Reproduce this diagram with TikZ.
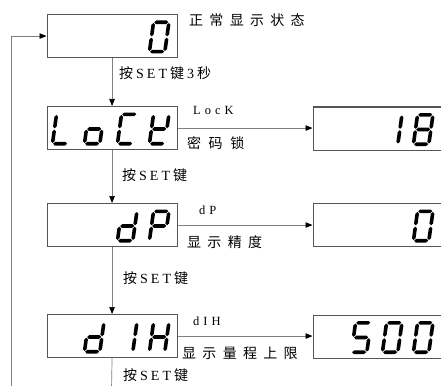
\documentclass[tikz,border=0pt]{standalone}
\usepackage{fontspec}
\setmainfont{Liberation Serif}
\newfontfamily\cjn{Noto Sans CJK SC}
\newfontfamily\cjw[LetterSpace=45]{Noto Sans CJK SC}
\newfontfamily\cjx[LetterSpace=54]{Noto Sans CJK SC}
\newfontfamily\ltw[LetterSpace=32]{Liberation Serif}
\usetikzlibrary{arrows.meta}
\definecolor{boxgray}{HTML}{555555}
\definecolor{linegray}{HTML}{808080}
\newcommand\hsg[3]{\fill (#1,#3) -- ({#1+1.8},{#3-1.8}) -- ({#2-1.8},{#3-1.8}) -- (#2,#3) -- ({#2-1.8},{#3+1.8}) -- ({#1+1.8},{#3+1.8}) -- cycle;}
\newcommand\vsg[3]{\fill (#1,#2) -- ({#1+1.8},{#2+1.8}) -- ({#1+1.8},{#3-1.8}) -- (#1,#3) -- ({#1-1.8},{#3-1.8}) -- ({#1-1.8},{#2+1.8}) -- cycle;}
\expandafter\newcommand\csname SGa\endcsname{\hsg{2.5}{16.5}{1.8}}
\expandafter\newcommand\csname SGb\endcsname{\vsg{17.2}{2.5}{15.8}}
\expandafter\newcommand\csname SGc\endcsname{\vsg{17.2}{17.2}{30.5}}
\expandafter\newcommand\csname SGd\endcsname{\hsg{2.5}{16.5}{31.2}}
\expandafter\newcommand\csname SGe\endcsname{\vsg{1.8}{17.2}{30.5}}
\expandafter\newcommand\csname SGf\endcsname{\vsg{1.8}{2.5}{15.8}}
\expandafter\newcommand\csname SGg\endcsname{\hsg{2.5}{16.5}{16.5}}
\newcommand\sevseg[3]{\begin{scope}[shift={(#1,#2)},xslant=0.14]\foreach \s in {#3}{\csname SG\s\endcsname}\end{scope}}
\newcommand\gk{\hspace{3pt}}
\newcommand\pressset{{\cjn 按}\gk S\gk E\gk T\gk{\cjn 键}}
\tikzset{
  dispbox/.style={draw=boxgray, line width=1.1pt, minimum width=130pt, minimum height=43pt, inner sep=0pt, anchor=north west},
  conn/.style={draw=linegray, line width=0.7pt},
  arr/.style={conn, -{Triangle[length=7pt,width=5.5pt,color=black,fill=black]}},
  lbl/.style={anchor=west, inner sep=0pt, font=\fontsize{14}{16}\selectfont},
  lat/.style={anchor=west, inner sep=0pt, font=\fontsize{12.5}{15}\selectfont\ltw},
}
\begin{document}
\begin{tikzpicture}[x=1pt,y=-1pt]
\useasboundingbox (0,0) rectangle (441,385);
% display boxes
\node[dispbox] (b1) at (46.5,14) {};
\node[dispbox] (b2) at (46.5,106) {};
\node[dispbox] (b3) at (46.5,203) {};
\node[dispbox] (b4) at (46.5,314) {};
\node[dispbox] (r2) at (312.5,106.5) {};
\node[dispbox] (r3) at (312.5,203) {};
\node[dispbox] (r4) at (312.5,314.5) {};
\coordinate (bot) at (111.5,390);
\coordinate (ret) at (11,390);
% connectors
\draw[arr] (b1.south) -- (b2.north);
\draw[arr] (b2.south) -- (b3.north);
\draw[arr] (b3.south) -- (b4.north);
\draw[conn] (b4.south) -- (bot);
\draw[arr] (ret) |- (b1.west);
\draw[arr] (b2.east) -- (b2.east -| r2.west);
\draw[arr] (b3.east) -- (b3.east -| r3.west);
\draw[arr] (b4.east) -- (b4.east -| r4.west);
% digits
\sevseg{152}{20.5}{a,b,c,d,e,f}
\sevseg{55}{112.5}{d,e,f}
\sevseg{87}{112.5}{c,d,e,g}
\sevseg{120}{112.5}{a,d,e,f}
\sevseg{152}{112.5}{b,d,e,f,g}
\sevseg{385}{113}{b,c}
\sevseg{416}{113}{a,b,c,d,e,f,g}
\sevseg{120}{209.5}{b,c,d,e,g}
\sevseg{152}{209.5}{a,b,e,f,g}
\sevseg{416}{209.5}{a,b,c,d,e,f}
\sevseg{87}{320.5}{b,c,d,e,g}
\sevseg{120}{320.5}{b,c}
\sevseg{152}{320.5}{b,c,e,f,g}
\sevseg{354}{321}{a,f,g,c,d}
\sevseg{385}{321}{a,b,c,d,e,f}
\sevseg{416}{321}{a,b,c,d,e,f}
% labels
\node[lbl] (t1) at (189,20.5) {\cjw 正常显示状态};
\node[lbl] (t2) at (119,73) {\pressset\gk 3\gk{\cjn 秒}};
\node[lat] (t3) at (193,110) {LocK};
\node[lbl] (t4) at (187,143) {\cjx 密码锁};
\node[lbl] (t5) at (122,175) {\pressset};
\node[lat] (t6) at (199,210) {dP};
\node[lbl] (t7) at (187,242) {\cjw 显示精度};
\node[lbl] (t8) at (123,278) {\pressset};
\node[lat] (t9) at (193,321) {dIH};
\node[lbl] (t10) at (182,353) {\cjw 显示量程上限};
\node[lbl] (t11) at (123,375) {\pressset};
\end{tikzpicture}
\end{document}
